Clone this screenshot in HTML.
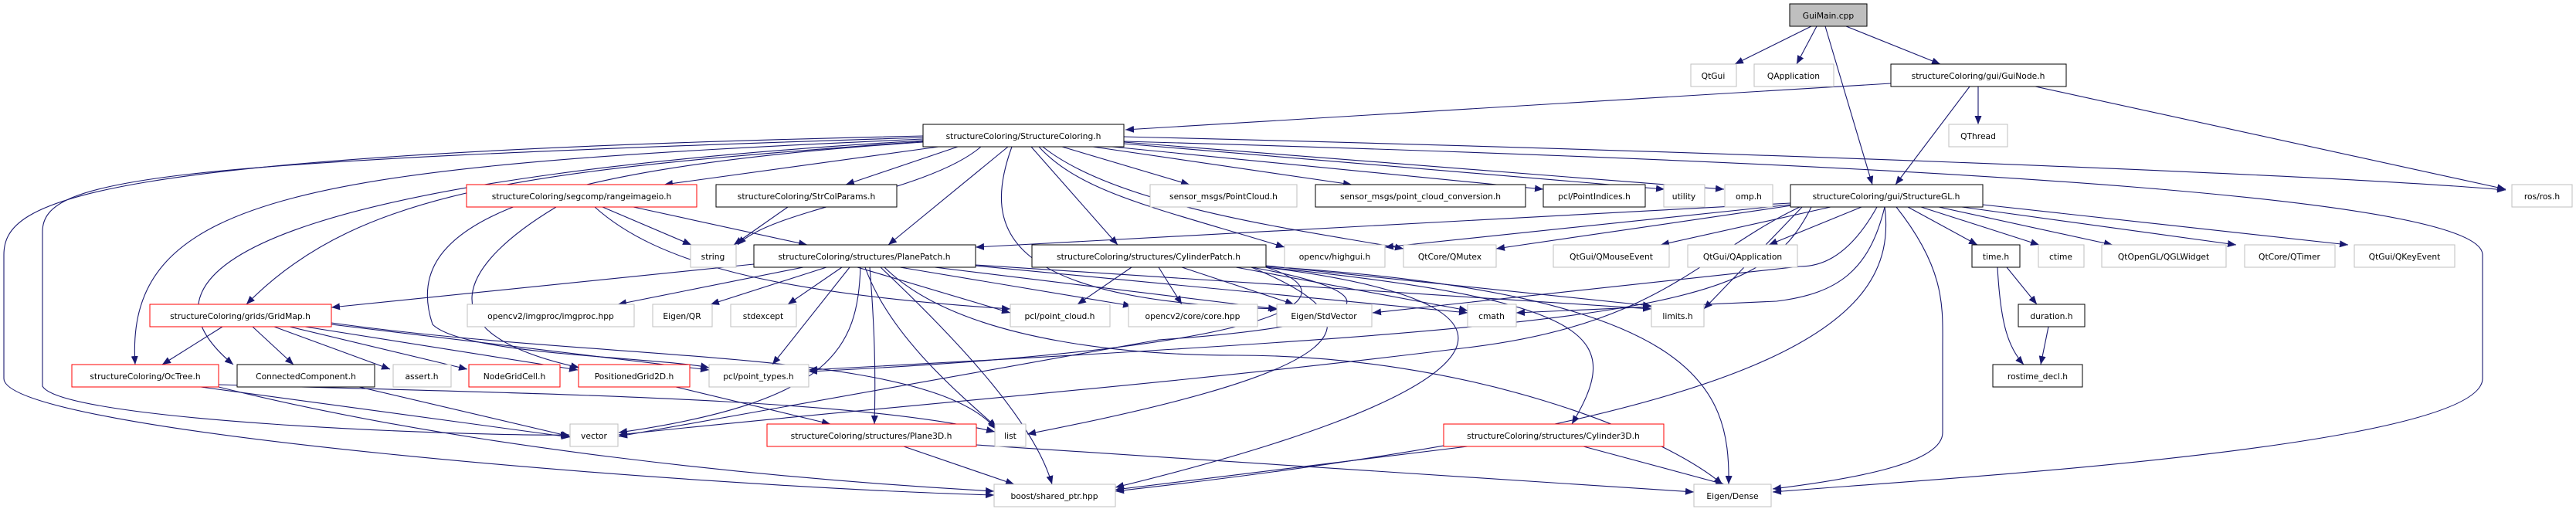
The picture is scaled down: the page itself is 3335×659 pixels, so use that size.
<!DOCTYPE html>
<html><head><meta charset="utf-8"><style>
html,body{margin:0;padding:0;background:#fff;width:3335px;height:659px;overflow:hidden}
svg text{font-family:"DejaVu Sans","Liberation Sans",sans-serif;font-size:10.7px;fill:#000}
.e{fill:none;stroke:#191970;stroke-width:1.1}
</style></head><body>
<svg width="3335" height="659" viewBox="0 0 3335 659" xmlns="http://www.w3.org/2000/svg">
<defs><marker id="a" markerUnits="userSpaceOnUse" markerWidth="12" markerHeight="10" refX="11" refY="4.5" orient="auto"><path d="M0,0 L11,4.5 L0,9 z" fill="#191970"/></marker></defs>
<g class="e" marker-end="url(#a)">
<path d="M2345,34 L2246,83"/>
<path d="M2352,34 L2326,83"/>
<path d="M2363,34 L2424,239"/>
<path d="M2390,34 L2512,83"/>
<path d="M2561,112 L2561,161"/>
<path d="M2550,112 L2454,239"/>
<path d="M2635,112 L3244,245"/>
<path d="M2448,108 L1457,168"/>
<path d="M1455,177 C2200,195 3000,225 3244,246"/>
<path d="M1455,183 C2600,215 3214,260 3214,330 L3214,490 C3214,580 2500,620 2295,637"/>
<path d="M1215,190 L860,239"/>
<path d="M1240,190 L1095,239"/>
<path d="M1270,190 C1200,250 1000,270 955,317"/>
<path d="M1305,190 L1150,317"/>
<path d="M1195,183 C700,220 470,240 319,394"/>
<path d="M1195,180 C400,215 160,250 175,472"/>
<path d="M1195,182 C450,225 130,330 302,472"/>
<path d="M1195,178 C200,210 55,230 55,300 L55,500 C80,545 600,565 737,563"/>
<path d="M1195,176 C100,200 5,260 5,330 L5,490 C5,560 900,630 1287,641"/>
<path d="M1195,184 C650,220 520,300 560,420 C600,460 850,462 918,476"/>
<path d="M1375,190 L1540,239"/>
<path d="M1415,190 L1750,239"/>
<path d="M1440,190 L1998,245"/>
<path d="M1455,186 L2155,245"/>
<path d="M1455,184 L2232,245"/>
<path d="M1335,190 L1447,317"/>
<path d="M1345,190 C1400,250 1500,270 1663,320"/>
<path d="M1350,190 C1450,270 1700,300 1817,322"/>
<path d="M1310,190 C1270,300 1300,390 1655,400"/>
<path d="M2318,263 L1263,320"/>
<path d="M2318,265 L1793,320"/>
<path d="M2320,266 L1937,322"/>
<path d="M2370,268 L2150,317"/>
<path d="M2410,268 L2290,317"/>
<path d="M2470,268 L2560,317"/>
<path d="M2487,268 L2640,317"/>
<path d="M2510,268 L2735,317"/>
<path d="M2540,268 L2895,317"/>
<path d="M2567,265 L3040,317"/>
<path d="M2455,268 C2520,350 2515,400 2515,450 L2515,560 C2515,600 2400,620 2295,633"/>
<path d="M2430,268 C2390,340 2350,345 2330,345 L1777,405"/>
<path d="M2440,268 C2420,350 2380,380 2300,390 L1963,405"/>
<path d="M2330,268 C2200,330 2150,420 1900,450 C1500,500 1100,530 801,563"/>
<path d="M2345,268 C2280,400 2150,420 1047,479"/>
<path d="M2440,268 C2460,420 2300,540 1444,636"/>
<path d="M2335,266 L2206,400"/>
<path d="M976,342 L429,398"/>
<path d="M1040,346 L800,394"/>
<path d="M1070,346 L920,394"/>
<path d="M1090,346 L1020,394"/>
<path d="M1100,346 L1000,472"/>
<path d="M1110,346 L1308,405"/>
<path d="M1165,346 L1465,396"/>
<path d="M1210,346 L1653,400"/>
<path d="M1263,344 L1900,405"/>
<path d="M1263,343 L2138,400"/>
<path d="M1114,346 C1110,450 1080,520 801,560"/>
<path d="M1126,346 C1132,420 1134,480 1132,549"/>
<path d="M1140,346 C1250,450 1340,550 1362,627"/>
<path d="M1120,346 C1150,430 1230,500 1290,553"/>
<path d="M1145,346 C1250,450 1500,460 1600,460 C1900,460 2150,560 2230,627"/>
<path d="M780,268 L895,317"/>
<path d="M820,268 L1045,317"/>
<path d="M720,268 C600,340 540,430 750,476"/>
<path d="M770,268 C850,340 1000,380 1308,400"/>
<path d="M1020,268 L950,317"/>
<path d="M288,423 L210,472"/>
<path d="M327,423 L380,472"/>
<path d="M355,423 L505,478"/>
<path d="M375,423 L605,478"/>
<path d="M395,423 L748,479"/>
<path d="M429,420 L918,479"/>
<path d="M429,418 C800,470 1200,450 1290,556"/>
<path d="M260,501 L738,566"/>
<path d="M283,498 C700,510 1100,515 1288,559"/>
<path d="M283,501 C600,580 1000,620 1287,636"/>
<path d="M465,501 L738,565"/>
<path d="M875,501 L1075,549"/>
<path d="M1170,578 L1313,627"/>
<path d="M1264,576 L2193,637"/>
<path d="M1465,346 L1395,394"/>
<path d="M1500,346 L1530,394"/>
<path d="M1530,346 L1675,394"/>
<path d="M1600,346 L1900,402"/>
<path d="M1639,344 L2138,396"/>
<path d="M1639,346 C2080,390 2100,440 2035,549"/>
<path d="M1639,346 C2070,400 1900,520 1444,631"/>
<path d="M1620,346 C1800,420 1750,480 1330,562"/>
<path d="M1620,346 C1810,380 1790,420 1500,440 L801,565"/>
<path d="M1639,346 C1750,380 1700,450 1047,481"/>
<path d="M1639,345 C2200,380 2240,500 2238,627"/>
<path d="M1900,578 L1444,634"/>
<path d="M2050,578 L2232,627"/>
<path d="M2598,346 L2637,394"/>
<path d="M2586,346 C2590,420 2600,450 2620,472"/>
<path d="M2652,423 L2642,472"/>
</g>
<g stroke-width="1">
<rect x="2317" y="5" width="100" height="29" fill="#bfbfbf" stroke="#000"/><text x="2367" y="24" text-anchor="middle">GuiMain.cpp</text>
<rect x="2189" y="83" width="59" height="29" fill="#fff" stroke="#bfbfbf"/><text x="2218" y="102" text-anchor="middle">QtGui</text>
<rect x="2271" y="83" width="103" height="29" fill="#fff" stroke="#bfbfbf"/><text x="2322" y="102" text-anchor="middle">QApplication</text>
<rect x="2448" y="83" width="227" height="29" fill="#fff" stroke="#000"/><text x="2561" y="102" text-anchor="middle">structureColoring/gui/GuiNode.h</text>
<rect x="2523" y="161" width="76" height="29" fill="#fff" stroke="#bfbfbf"/><text x="2561" y="180" text-anchor="middle">QThread</text>
<rect x="1195" y="161" width="260" height="29" fill="#fff" stroke="#000"/><text x="1325" y="180" text-anchor="middle">structureColoring/StructureColoring.h</text>
<rect x="604" y="239" width="298" height="29" fill="#fff" stroke="#ff0000"/><text x="753" y="258" text-anchor="middle">structureColoring/segcomp/rangeimageio.h</text>
<rect x="927" y="239" width="234" height="29" fill="#fff" stroke="#000"/><text x="1044" y="258" text-anchor="middle">structureColoring/StrColParams.h</text>
<rect x="1489" y="239" width="190" height="29" fill="#fff" stroke="#bfbfbf"/><text x="1584" y="258" text-anchor="middle">sensor_msgs/PointCloud.h</text>
<rect x="1703" y="239" width="272" height="29" fill="#fff" stroke="#000"/><text x="1839" y="258" text-anchor="middle">sensor_msgs/point_cloud_conversion.h</text>
<rect x="1998" y="239" width="132" height="29" fill="#fff" stroke="#000"/><text x="2064" y="258" text-anchor="middle">pcl/PointIndices.h</text>
<rect x="2154" y="239" width="53" height="29" fill="#fff" stroke="#bfbfbf"/><text x="2180" y="258" text-anchor="middle">utility</text>
<rect x="2233" y="239" width="62" height="29" fill="#fff" stroke="#bfbfbf"/><text x="2264" y="258" text-anchor="middle">omp.h</text>
<rect x="2318" y="239" width="249" height="29" fill="#fff" stroke="#000"/><text x="2442" y="258" text-anchor="middle">structureColoring/gui/StructureGL.h</text>
<rect x="3252" y="239" width="78" height="29" fill="#fff" stroke="#bfbfbf"/><text x="3291" y="258" text-anchor="middle">ros/ros.h</text>
<rect x="894" y="317" width="59" height="29" fill="#fff" stroke="#bfbfbf"/><text x="923" y="336" text-anchor="middle">string</text>
<rect x="976" y="317" width="287" height="29" fill="#fff" stroke="#000"/><text x="1119" y="336" text-anchor="middle">structureColoring/structures/PlanePatch.h</text>
<rect x="1336" y="317" width="303" height="29" fill="#fff" stroke="#000"/><text x="1487" y="336" text-anchor="middle">structureColoring/structures/CylinderPatch.h</text>
<rect x="1663" y="317" width="130" height="29" fill="#fff" stroke="#bfbfbf"/><text x="1728" y="336" text-anchor="middle">opencv/highgui.h</text>
<rect x="1817" y="317" width="120" height="29" fill="#fff" stroke="#bfbfbf"/><text x="1877" y="336" text-anchor="middle">QtCore/QMutex</text>
<rect x="2011" y="317" width="150" height="29" fill="#fff" stroke="#bfbfbf"/><text x="2086" y="336" text-anchor="middle">QtGui/QMouseEvent</text>
<rect x="2185" y="317" width="142" height="29" fill="#fff" stroke="#bfbfbf"/><text x="2256" y="336" text-anchor="middle">QtGui/QApplication</text>
<rect x="2553" y="317" width="62" height="29" fill="#fff" stroke="#000"/><text x="2584" y="336" text-anchor="middle">time.h</text>
<rect x="2639" y="317" width="59" height="29" fill="#fff" stroke="#bfbfbf"/><text x="2668" y="336" text-anchor="middle">ctime</text>
<rect x="2721" y="317" width="161" height="29" fill="#fff" stroke="#bfbfbf"/><text x="2801" y="336" text-anchor="middle">QtOpenGL/QGLWidget</text>
<rect x="2906" y="317" width="117" height="29" fill="#fff" stroke="#bfbfbf"/><text x="2964" y="336" text-anchor="middle">QtCore/QTimer</text>
<rect x="3048" y="317" width="130" height="29" fill="#fff" stroke="#bfbfbf"/><text x="3113" y="336" text-anchor="middle">QtGui/QKeyEvent</text>
<rect x="194" y="394" width="235" height="29" fill="#fff" stroke="#ff0000"/><text x="311" y="413" text-anchor="middle">structureColoring/grids/GridMap.h</text>
<rect x="605" y="394" width="216" height="29" fill="#fff" stroke="#bfbfbf"/><text x="713" y="413" text-anchor="middle">opencv2/imgproc/imgproc.hpp</text>
<rect x="845" y="394" width="77" height="29" fill="#fff" stroke="#bfbfbf"/><text x="883" y="413" text-anchor="middle">Eigen/QR</text>
<rect x="946" y="394" width="85" height="29" fill="#fff" stroke="#bfbfbf"/><text x="988" y="413" text-anchor="middle">stdexcept</text>
<rect x="1308" y="394" width="129" height="29" fill="#fff" stroke="#bfbfbf"/><text x="1372" y="413" text-anchor="middle">pcl/point_cloud.h</text>
<rect x="1461" y="394" width="167" height="29" fill="#fff" stroke="#bfbfbf"/><text x="1544" y="413" text-anchor="middle">opencv2/core/core.hpp</text>
<rect x="1653" y="394" width="123" height="29" fill="#fff" stroke="#bfbfbf"/><text x="1714" y="413" text-anchor="middle">Eigen/StdVector</text>
<rect x="1900" y="394" width="63" height="29" fill="#fff" stroke="#bfbfbf"/><text x="1931" y="413" text-anchor="middle">cmath</text>
<rect x="2138" y="394" width="68" height="29" fill="#fff" stroke="#bfbfbf"/><text x="2172" y="413" text-anchor="middle">limits.h</text>
<rect x="2613" y="394" width="86" height="29" fill="#fff" stroke="#000"/><text x="2656" y="413" text-anchor="middle">duration.h</text>
<rect x="93" y="472" width="190" height="29" fill="#fff" stroke="#ff0000"/><text x="188" y="491" text-anchor="middle">structureColoring/OcTree.h</text>
<rect x="307" y="472" width="178" height="29" fill="#fff" stroke="#000"/><text x="396" y="491" text-anchor="middle">ConnectedComponent.h</text>
<rect x="509" y="472" width="75" height="29" fill="#fff" stroke="#bfbfbf"/><text x="546" y="491" text-anchor="middle">assert.h</text>
<rect x="607" y="472" width="118" height="29" fill="#fff" stroke="#ff0000"/><text x="666" y="491" text-anchor="middle">NodeGridCell.h</text>
<rect x="749" y="472" width="144" height="29" fill="#fff" stroke="#ff0000"/><text x="821" y="491" text-anchor="middle">PositionedGrid2D.h</text>
<rect x="918" y="472" width="129" height="29" fill="#fff" stroke="#bfbfbf"/><text x="982" y="491" text-anchor="middle">pcl/point_types.h</text>
<rect x="2580" y="472" width="116" height="29" fill="#fff" stroke="#000"/><text x="2638" y="491" text-anchor="middle">rostime_decl.h</text>
<rect x="738" y="549" width="62" height="29" fill="#fff" stroke="#bfbfbf"/><text x="769" y="568" text-anchor="middle">vector</text>
<rect x="993" y="549" width="271" height="29" fill="#fff" stroke="#ff0000"/><text x="1128" y="568" text-anchor="middle">structureColoring/structures/Plane3D.h</text>
<rect x="1288" y="549" width="40" height="29" fill="#fff" stroke="#bfbfbf"/><text x="1308" y="568" text-anchor="middle">list</text>
<rect x="1869" y="549" width="285" height="29" fill="#fff" stroke="#ff0000"/><text x="2011" y="568" text-anchor="middle">structureColoring/structures/Cylinder3D.h</text>
<rect x="1287" y="627" width="157" height="29" fill="#fff" stroke="#bfbfbf"/><text x="1365" y="646" text-anchor="middle">boost/shared_ptr.hpp</text>
<rect x="2193" y="627" width="100" height="29" fill="#fff" stroke="#bfbfbf"/><text x="2243" y="646" text-anchor="middle">Eigen/Dense</text>
</g>
</svg>
</body></html>
